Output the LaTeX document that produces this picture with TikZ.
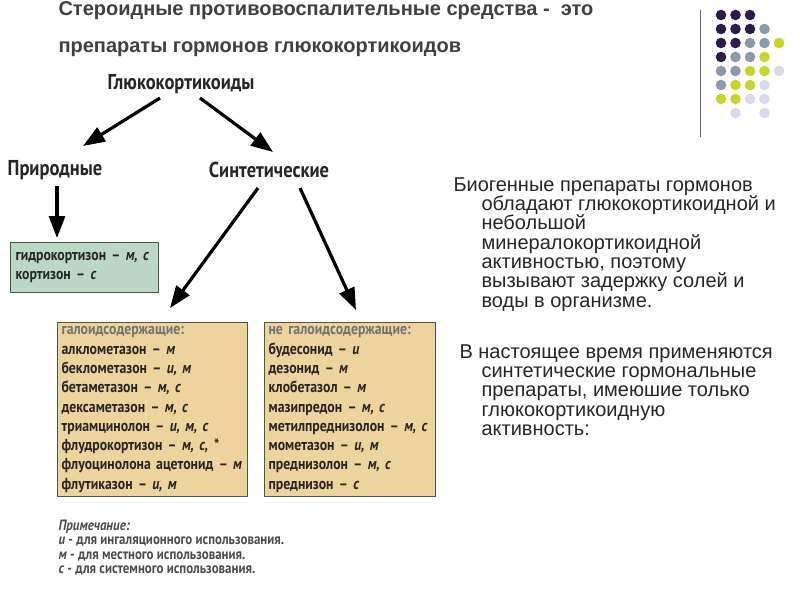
\documentclass[tikz,border=0pt]{standalone}
\usepackage{fontspec}
\setmainfont{Liberation Sans}
\newfontfamily\cond[FakeStretch=0.86]{PT Sans}
\usetikzlibrary{arrows.meta}
\definecolor{dp}{HTML}{2D1A4F}
\definecolor{dg}{HTML}{8A9AA8}
\definecolor{dy}{HTML}{C8D62A}
\definecolor{dl}{HTML}{DCD8EC}
\definecolor{boxf}{HTML}{EDD39C}
\definecolor{grf}{HTML}{BBD8C6}
\definecolor{bord}{HTML}{4A5A48}
\begin{document}
\begin{tikzpicture}[x=1pt,y=-1pt,
 arr/.style={line width=3.2pt,-{Triangle[length=22pt,width=16pt]}},
 lbl/.style={font=\cond\bfseries\fontsize{21.5}{23}\selectfont,text=black!85},
 bx/.style={draw=bord,line width=1.2pt,fill=boxf,anchor=north west,align=left,inner sep=4pt,font=\cond\bfseries\fontsize{16}{19.3}\selectfont,text=black!85},
 rt/.style={font=\fontsize{20}{19.3}\selectfont,align=left,anchor=north west,text=black!85}]
\useasboundingbox (0,0) rectangle (800,600);
\node[anchor=west,font=\bfseries\fontsize{20}{22}\selectfont,text=black!75] (t1) at (55,11) {Стероидные противовоспалительные средства -\ \ это};
\node[anchor=west,font=\bfseries\fontsize{20}{22}\selectfont,text=black!75] (t2) at (55,49) {препараты гормонов глюкокортикоидов};
\node[lbl] (g) at (181,84) {Глюкокортикоиды};
\node[lbl] (p) at (55,170) {Природные};
\node[lbl] (s) at (269,170) {Синтетические};
\node[bx,fill=grf,text width=138pt,minimum height=50pt,inner sep=5pt] (gb) at (10,242) {гидрокортизон – \textit{м, с}\\кортизон – \textit{с}};
\node[bx,text width=182pt,minimum height=173pt] (b1) at (57,322) {\textcolor{black!55}{галоидсодержащие:}\\алклометазон – \textit{м}\\беклометазон – \textit{и, м}\\бетаметазон – \textit{м, с}\\дексаметазон – \textit{м, с}\\триамцинолон – \textit{и, м, с}\\флудрокортизон – \textit{м, с, *}\\флуоцинолона ацетонид – \textit{м}\\флутиказон – \textit{и, м}};
\node[bx,text width=163pt,minimum height=173pt] (b2) at (264,322) {\textcolor{black!55}{не галоидсодержащие:}\\будесонид – \textit{и}\\дезонид – \textit{м}\\клобетазол – \textit{м}\\мазипредон – \textit{м, с}\\метилпреднизолон – \textit{м, с}\\мометазон – \textit{и, м}\\преднизолон – \textit{м, с}\\преднизон – \textit{с}};
\node[anchor=north west,align=left,font=\cond\bfseries\fontsize{15}{14.5}\selectfont,text=black!70] (note) at (55,516) {\textit{Примечание:}\\\textit{и} - для ингаляционного использования.\\\textit{м} - для местного использования.\\\textit{с} - для системного использования.};
\coordinate (s1) at (160,98); \coordinate (a1) at (83,146);
\coordinate (s2) at (200,98); \coordinate (a2) at (273,152);
\coordinate (s3) at (57,186); \coordinate (a3) at (57,238);
\coordinate (s4) at (258,188); \coordinate (a4) at (170,308);
\coordinate (s5) at (300,188); \coordinate (a5) at (356,310);
\draw[arr] (s1) -- (a1);
\draw[arr] (s2) -- (a2);
\draw[arr] (s3) -- (a3);
\draw[arr] (s4) -- (a4);
\draw[arr] (s5) -- (a5);
\node[rt] (r1) at (450,174) {Биогенные препараты гормонов\\\hspace*{28pt}обладают глюкокортикоидной и\\\hspace*{28pt}небольшой\\\hspace*{28pt}минералокортикоидной\\\hspace*{28pt}активностью, поэтому\\\hspace*{28pt}вызывают задержку солей и\\\hspace*{28pt}воды в организме.};
\node[rt] (r2) at (456,341) {В настоящее время применяются\\\hspace*{22pt}синтетические гормональные\\\hspace*{22pt}препараты, имеюшие только\\\hspace*{22pt}глюкокортикоидную\\\hspace*{22pt}активность:};
\draw[black!60,line width=1pt] (700,10) -- (700,137);
\foreach \r/\row in {0/{dp,dp,dp},1/{dp,dp,dp,dg},2/{dp,dp,dg,dg,dy},3/{dp,dg,dg,dy},4/{dg,dg,dy,dy,dl},5/{dg,dy,dy,dl},6/{dy,dy,dl,dl}}{
 \foreach \c [count=\i from 0] in \row {\fill[\c] (721+14.5*\i,15+14*\r) circle (5.3pt);}}
\fill[dl] (735.5,113) circle (5.3pt); \fill[dl] (764.5,113) circle (5.3pt);
\end{tikzpicture}
\end{document}
